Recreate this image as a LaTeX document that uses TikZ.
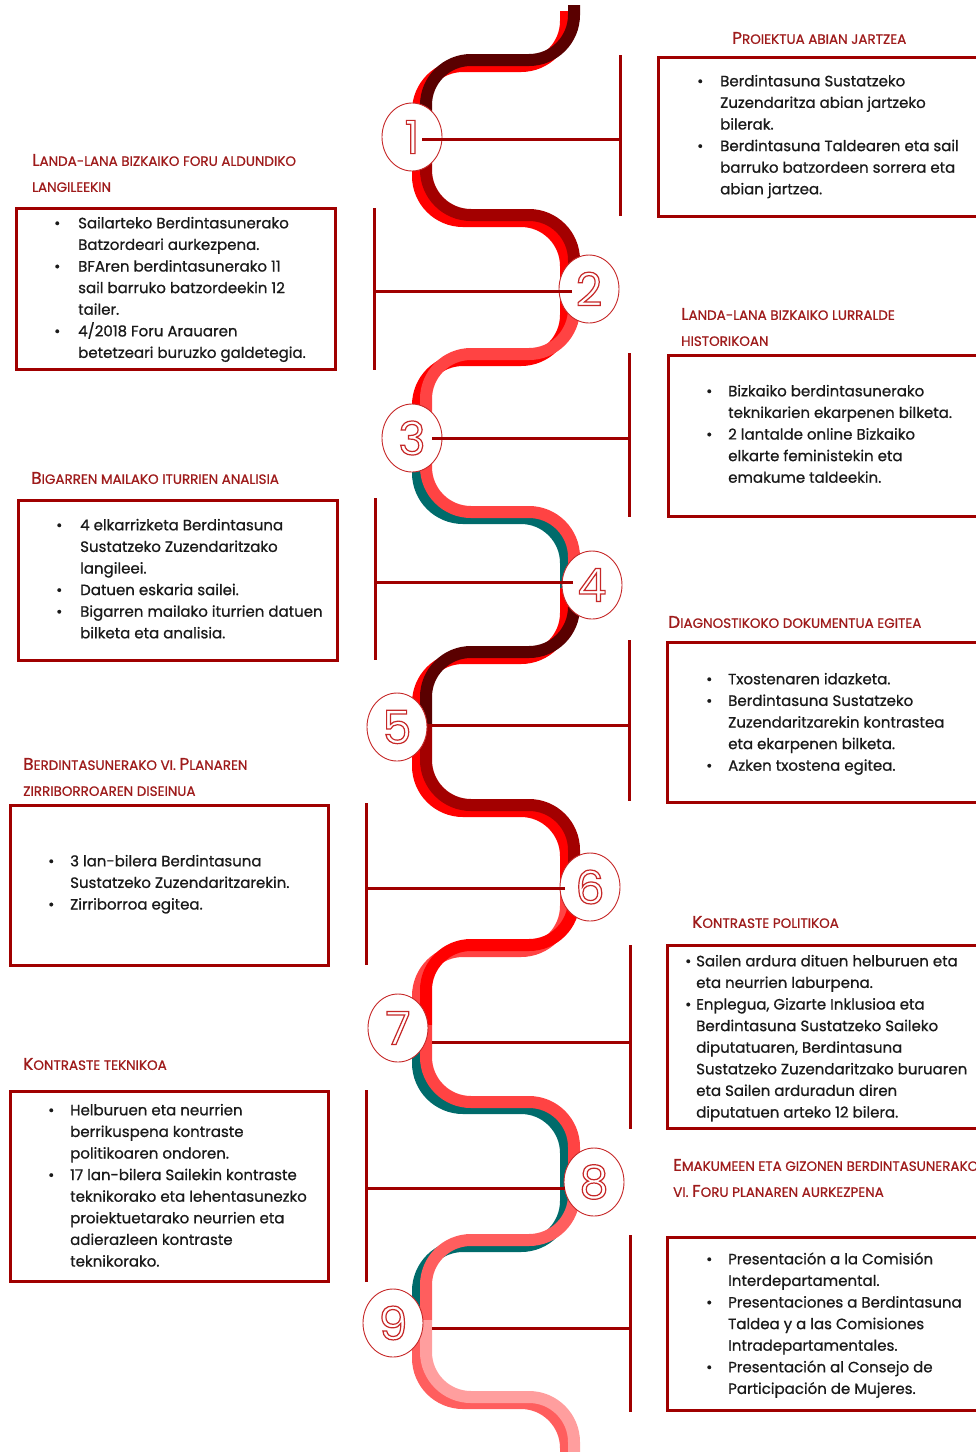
\documentclass[tikz,border=0pt]{standalone}
\usepackage{fontspec}
\setmainfont{Poppins}[RawFeature={embolden=0.8}]
\newfontfamily\numfont{Poppins}
\usetikzlibrary{shapes.geometric, positioning}

\definecolor{boxred}{HTML}{A00000}
\definecolor{titlered}{HTML}{9E1B1B}
\definecolor{numred}{HTML}{C62828}
\definecolor{textdark}{HTML}{1A1A1A}
\definecolor{ribbonred}{HTML}{FF0000}
\definecolor{ribbondark}{HTML}{5A0000}
\definecolor{ribbonmid}{HTML}{A30000}
\definecolor{ribbonlight}{HTML}{FF4343}
\definecolor{ribbonsalmon}{HTML}{FF5E5E}
\definecolor{ribbonpink}{HTML}{FF9E9E}
\definecolor{ribbonteal}{HTML}{006B6B}

% two strands of the ribbon
\newcommand\seg[3]{%
  \draw[strand, draw=#1, xshift=-4pt, yshift=-3pt] #3;
  \draw[strand, draw=#2, xshift=4pt, yshift=3pt] #3;}
% small caps title letters
\newcommand\sct[2]{{\fontsize{17}{26}\selectfont #1}{\fontsize{13.5}{26}\selectfont #2}}
% hollow digit
\newcommand\outnum[1]{\special{pdf:literal direct 1 Tr 1.2 w}#1\special{pdf:literal direct 0 Tr}}

\tikzset{
  strand/.style={line width=12pt, line cap=butt, rounded corners=45pt},
  stepnum/.style={ellipse, draw=numred, fill=white, line width=0.9pt,
    minimum width=60pt, minimum height=68pt, inner sep=0pt, text=numred,
    font=\numfont\fontsize{46}{46}\selectfont},
  stepbox/.style={draw=boxred, line width=3pt, anchor=north west, outer sep=0pt, inner sep=0pt},
  steptitle/.style={anchor=west, text=titlered, inner sep=0pt, align=left,
    font=\fontsize{13.5}{26}\selectfont},
  steptext/.style={anchor=north west, inner sep=0pt, text=textdark,
    font=\fontsize{15}{21.6}\selectfont},
  bar/.style={draw=boxred, line width=3pt},
  link/.style={draw=boxred, line width=3pt},
}

\begin{document}
\begin{tikzpicture}[x=1pt, y=-1pt]
  \useasboundingbox (0,0) rectangle (976,1452);

  % --- Ribbon ---
  \seg{ribbonred}{ribbondark}{(570,8) -- (570,63) -- (422,63) -- (422,137)}
  \seg{ribbonred}{ribbonmid}{(422,137) -- (422,218) -- (570,218) -- (570,289)}
  \seg{ribbonred}{ribbonlight}{(570,289) -- (570,357) -- (422,357) -- (422,438)}
  \seg{ribbonteal}{ribbonlight}{(422,438) -- (422,515) -- (570,515) -- (570,585)}
  \seg{ribbonred}{ribbondark}{(570,585) -- (570,655) -- (422,655) -- (422,727)}
  \seg{ribbonred}{ribbonmid}{(422,727) -- (422,808) -- (570,808) -- (570,887)}
  \seg{ribbonlight}{ribbonred}{(570,887) -- (570,948) -- (422,948) -- (422,1028)}
  \seg{ribbonteal}{ribbonlight}{(422,1028) -- (422,1105) -- (570,1105) -- (570,1182)}
  \seg{ribbonteal}{ribbonsalmon}{(570,1182) -- (570,1243) -- (422,1243) -- (422,1323)}
  \seg{ribbonsalmon}{ribbonpink}{(422,1323) -- (422,1400) -- (570,1400) -- (570,1460)}

  % --- Steps ---
  \node[stepnum] (c1) at (412,137) {\outnum{1}};
  \node[stepnum] (c2) at (589,289) {\outnum{2}};
  \node[stepnum] (c3) at (412,438) {\outnum{3}};
  \node[stepnum] (c4) at (592,585) {\outnum{4}};
  \node[stepnum] (c5) at (397,727) {\outnum{5}};
  \node[stepnum] (c6) at (590,887) {\outnum{6}};
  \node[stepnum] (c7) at (398,1028) {\outnum{7}};
  \node[stepnum] (c8) at (594,1182) {\outnum{8}};
  \node[stepnum] (c9) at (393,1323) {\outnum{9}};

  % --- Bars and links ---
  \coordinate (b1n) at (620,55);   \coordinate (b1s) at (620,216);
  \coordinate (b2n) at (374,208);  \coordinate (b2s) at (374,370);
  \coordinate (b3n) at (629,353);  \coordinate (b3s) at (629,517);
  \coordinate (b4n) at (375,498);  \coordinate (b4s) at (375,660);
  \coordinate (b5n) at (629,640);  \coordinate (b5s) at (629,801);
  \coordinate (b6n) at (366,803);  \coordinate (b6s) at (366,965);
  \coordinate (b7n) at (630,945);  \coordinate (b7s) at (630,1129);
  \coordinate (b8n) at (366,1090); \coordinate (b8s) at (366,1282);
  \coordinate (b9n) at (630,1235); \coordinate (b9s) at (630,1412);
  \foreach \k in {1,...,9}
    \draw[bar] (b\k n) -- (b\k s);

  \coordinate (e1) at (422,139);
  \coordinate (e2) at (572,291);
  \coordinate (e3) at (432,438);
  \coordinate (e4) at (573,582);
  \coordinate (e5) at (432,725);
  \coordinate (e6) at (565,888);
  \coordinate (e7) at (432,1042);
  \coordinate (e8) at (565,1188);
  \coordinate (e9) at (432,1328);
  \draw[link] (e1) -- (e1 -| b1n);
  \draw[link] (e2) -- (e2 -| b2n);
  \draw[link] (e3) -- (e3 -| b3n);
  \draw[link] (e4) -- (e4 -| b4n);
  \draw[link] (e5) -- (e5 -| b5n);
  \draw[link] (e6) -- (e6 -| b6n);
  \draw[link] (e7) -- (e7 -| b7n);
  \draw[link] (e8) -- (e8 -| b8n);
  \draw[link] (e9) -- (e9 -| b9n);

  % --- Boxes ---
  \node[stepbox, minimum width=327pt, minimum height=159pt] (box1) at (658,57) {};
  \node[stepbox, minimum width=319pt, minimum height=161pt] (box2) at (16,208) {};
  \node[stepbox, minimum width=317pt, minimum height=161pt] (box3) at (668,355) {};
  \node[stepbox, minimum width=319pt, minimum height=160pt] (box4) at (18,500) {};
  \node[stepbox, minimum width=318pt, minimum height=160pt] (box5) at (667,642) {};
  \node[stepbox, minimum width=318pt, minimum height=160pt] (box6) at (10,805) {};
  \node[stepbox, minimum width=318pt, minimum height=183pt] (box7) at (667,945) {};
  \node[stepbox, minimum width=318pt, minimum height=190pt] (box8) at (10,1091) {};
  \node[stepbox, minimum width=318pt, minimum height=173pt] (box9) at (667,1237) {};

  % --- Titles ---
  \node[steptitle] (t1) at (732,38) {\sct{P}{ROIEKTUA ABIAN JARTZEA}};
  \node[steptitle] (t2) at (32,173) {\sct{L}{ANDA-LANA BIZKAIKO FORU ALDUNDIKO}\\\sct{}{LANGILEEKIN}};
  \node[steptitle] (t3) at (681,327) {\sct{L}{ANDA-LANA BIZKAIKO LURRALDE}\\\sct{}{HISTORIKOAN}};
  \node[steptitle] (t4) at (31,478) {\sct{B}{IGARREN MAILAKO ITURRIEN ANALISIA}};
  \node[steptitle] (t5) at (668,622) {\sct{D}{IAGNOSTIKOKO DOKUMENTUA EGITEA}};
  \node[steptitle] (t6) at (23,777) {\sct{B}{ERDINTASUNERAKO VI. }\sct{P}{LANAREN}\\\sct{}{ZIRRIBORROAREN DISEINUA}};
  \node[steptitle] (t7) at (692,922) {\sct{K}{ONTRASTE POLITIKOA}};
  \node[steptitle] (t8) at (23,1064) {\sct{K}{ONTRASTE TEKNIKOA}};
  \node[steptitle] (t9) at (673,1178) {\sct{E}{MAKUMEEN ETA GIZONEN BERDINTASUNERAKO}\\\sct{}{VI. }\sct{F}{ORU PLANAREN AURKEZPENA}};

  % --- Texts ---
  \node[steptext] (x1) at (697,71) {\begin{tabular}{@{}p{23pt}@{}l@{}}
    \textbullet & Berdintasuna Sustatzeko\\
    & Zuzendaritza abian jartzeko\\
    & bilerak.\\
    \textbullet & Berdintasuna Taldearen eta sail\\
    & barruko batzordeen sorrera eta\\
    & abian jartzea.
  \end{tabular}};
  \node[steptext] (x2) at (54,213) {\begin{tabular}{@{}p{24pt}@{}l@{}}
    \textbullet & Sailarteko Berdintasunerako\\
    & Batzordeari aurkezpena.\\
    \textbullet & BFAren berdintasunerako 11\\
    & sail barruko batzordeekin 12\\
    & tailer.\\
    \textbullet & 4/2018 Foru Arauaren\\
    & betetzeari buruzko galdetegia.
  \end{tabular}};
  \node[steptext] (x3) at (706,381) {\begin{tabular}{@{}p{22pt}@{}l@{}}
    \textbullet & Bizkaiko berdintasunerako\\
    & teknikarien ekarpenen bilketa.\\
    \textbullet & 2 lantalde online Bizkaiko\\
    & elkarte feministekin eta\\
    & emakume taldeekin.
  \end{tabular}};
  \node[steptext] (x4) at (56,515) {\begin{tabular}{@{}p{24pt}@{}l@{}}
    \textbullet & 4 elkarrizketa Berdintasuna\\
    & Sustatzeko Zuzendaritzako\\
    & langileei.\\
    \textbullet & Datuen eskaria sailei.\\
    \textbullet & Bigarren mailako iturrien datuen\\
    & bilketa eta analisia.
  \end{tabular}};
  \node[steptext] (x5) at (706,669) {\begin{tabular}{@{}p{22pt}@{}l@{}}
    \textbullet & Txostenaren idazketa.\\
    \textbullet & Berdintasuna Sustatzeko\\
    & Zuzendaritzarekin kontrastea\\
    & eta ekarpenen bilketa.\\
    \textbullet & Azken txostena egitea.
  \end{tabular}};
  \node[steptext] (x6) at (48,851) {\begin{tabular}{@{}p{22pt}@{}l@{}}
    \textbullet & 3 lan-bilera Berdintasuna\\
    & Sustatzeko Zuzendaritzarekin.\\
    \textbullet & Zirriborroa egitea.
  \end{tabular}};
  \node[steptext] (x7) at (685,951) {\begin{tabular}{@{}p{11pt}@{}l@{}}
    \textbullet & Sailen ardura dituen helburuen eta\\
    & eta neurrien laburpena.\\
    \textbullet & Enplegua, Gizarte Inklusioa eta\\
    & Berdintasuna Sustatzeko Saileko\\
    & diputatuaren, Berdintasuna\\
    & Sustatzeko Zuzendaritzako buruaren\\
    & eta Sailen arduradun diren\\
    & diputatuen arteko 12 bilera.
  \end{tabular}};
  \node[steptext] (x8) at (48,1100) {\begin{tabular}{@{}p{22pt}@{}l@{}}
    \textbullet & Helburuen eta neurrien\\
    & berrikuspena kontraste\\
    & politikoaren ondoren.\\
    \textbullet & 17 lan-bilera Sailekin kontraste\\
    & teknikorako eta lehentasunezko\\
    & proiektuetarako neurrien eta\\
    & adierazleen kontraste\\
    & teknikorako.
  \end{tabular}};
  \node[steptext] (x9) at (706,1249) {\begin{tabular}{@{}p{22pt}@{}l@{}}
    \textbullet & Presentación a la Comisión\\
    & Interdepartamental.\\
    \textbullet & Presentaciones a Berdintasuna\\
    & Taldea y a las Comisiones\\
    & Intradepartamentales.\\
    \textbullet & Presentación al Consejo de\\
    & Participación de Mujeres.
  \end{tabular}};
\end{tikzpicture}
\end{document}
